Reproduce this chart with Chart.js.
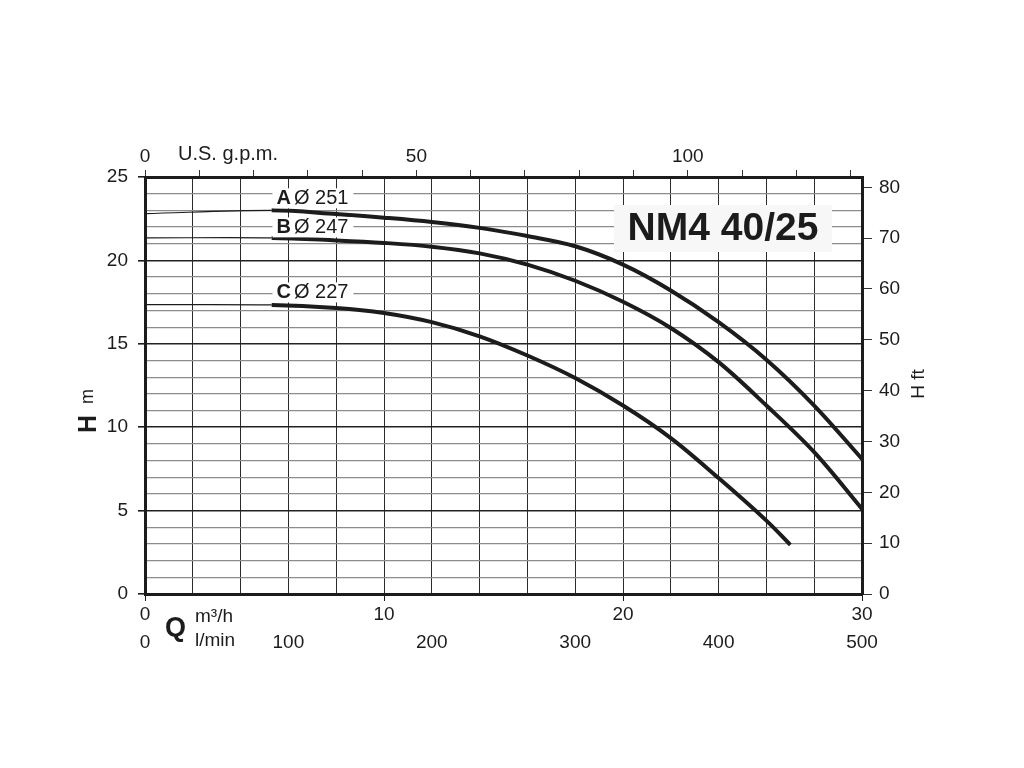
<!DOCTYPE html>
<html>
<head>
<meta charset="utf-8">
<script src="https://cdn.jsdelivr.net/npm/chart.js@4/dist/chart.umd.min.js"></script>
<style>
  html, body { margin: 0; padding: 0; background: #fff; }
  #wrap { width: 1024px; height: 768px; }
</style>
</head>
<body>
<div id="wrap"><canvas id="pump" width="1024" height="768"></canvas></div>
<script>
// curve data: Q in m3/h, H in m
const qA = [0, 5.3, 8, 10, 12, 14, 16, 18, 20, 22, 24, 26, 28, 30]
const hA = [22.8, 23.0, 22.78, 22.56, 22.3, 21.95, 21.46, 20.85, 19.75, 18.2, 16.3, 14.05, 11.3, 8.1]

const qB = [0, 5.3, 8, 10, 12, 14, 16, 18, 20, 22, 24, 26, 28, 30]
const hB = [21.35, 21.35, 21.2, 21.05, 20.82, 20.42, 19.75, 18.78, 17.52, 15.95, 13.9, 11.3, 8.5, 5.1]

const qC = [0, 5.3, 8, 10, 12, 14, 16, 18, 20, 22, 24, 26, 27]
const hC = [17.35, 17.33, 17.15, 16.85, 16.3, 15.45, 14.3, 12.95, 11.3, 9.35, 6.95, 4.4, 2.95]

const curveLetters = ['A', 'B', 'C']
const curveDiameters = ['Ø 251', 'Ø 247', 'Ø 227']

const modelName = 'NM4 40/25'

// unit conversions for the secondary axes
const GPM_PER_M3H = 4.4029
const FT_PER_M = 3.28084

const Q_MAX = 30
const H_MAX = 25
const THIN_UNTIL = 5.3

const ink = '#1c1c1c'
const font = 'Liberation Sans, Arial, sans-serif'

function points(q, h) {
    return q.map((v, i) => ({x: v, y: h[i]}))
}

function curve(q, h) {
    return {
        data: points(q, h),
        showLine: true,
        borderColor: ink,
        borderWidth: 4,
        pointRadius: 0,
        tension: 0.35,
        segment: {
            borderWidth: ctx => ctx.p0.parsed.x < THIN_UNTIL ? 1.2 : 4
        }
    }
}

// labels, title box and unit captions
const decorations = {
    id: 'decorations',
    afterDatasetsDraw(chart) {
        const {ctx, chartArea: a, scales} = chart
        ctx.save()
        ctx.textBaseline = 'middle'

        // curve labels A / B / C
        const labelH = [23.72, 21.98, 18.08]
        curveLetters.forEach((letter, i) => {
            const x = scales.x.getPixelForValue(5.5)
            const y = scales.y.getPixelForValue(labelH[i])
            ctx.font = 'bold 20px ' + font
            const lw = ctx.measureText(letter).width
            ctx.font = '20px ' + font
            const dw = ctx.measureText(curveDiameters[i]).width
            ctx.fillStyle = '#fff'
            ctx.fillRect(x - 4, y - 10, lw + dw + 12, 20)
            ctx.fillStyle = ink
            ctx.font = 'bold 20px ' + font
            ctx.textAlign = 'left'
            ctx.fillText(letter, x, y)
            ctx.font = '20px ' + font
            ctx.fillText(curveDiameters[i], x + lw + 3, y)
        })

        // model name box
        ctx.fillStyle = '#f7f7f7'
        ctx.fillRect(a.left + 469, a.top + 28, 218, 47)
        ctx.fillStyle = ink
        ctx.font = 'bold 39px ' + font
        ctx.textAlign = 'center'
        ctx.fillText(modelName, a.left + 578, a.top + 52)

        // top unit
        ctx.font = '20px ' + font
        ctx.textAlign = 'left'
        ctx.fillText('U.S. g.p.m.', 178, 154)

        // left axis title "H m"
        ctx.save()
        ctx.translate(89, 0)
        ctx.rotate(-Math.PI / 2)
        ctx.font = 'bold 25px ' + font
        ctx.textAlign = 'left'
        ctx.fillText('H', -433, 0)
        ctx.font = '18px ' + font
        ctx.fillText('m', -404, -1)
        ctx.restore()

        // right axis title "H ft"
        ctx.save()
        ctx.translate(919, 384)
        ctx.rotate(-Math.PI / 2)
        ctx.font = '19px ' + font
        ctx.textAlign = 'center'
        ctx.fillText('H ft', 0, 0)
        ctx.restore()

        // bottom captions
        ctx.font = 'bold 27px ' + font
        ctx.textAlign = 'left'
        ctx.fillText('Q', 165, 629)
        ctx.font = '19px ' + font
        ctx.fillText('m\u00b3/h', 195, 617)
        ctx.fillText('l/min', 195, 641)

        ctx.restore()
    }
}

const tickFont = {family: font, size: 19}

new Chart(document.getElementById('pump'), {
    type: 'scatter',
    data: {
        datasets: [curve(qA, hA), curve(qB, hB), curve(qC, hC)]
    },
    options: {
        responsive: false,
        animation: false,
        layout: {padding: 0},
        plugins: {
            legend: {display: false},
            tooltip: {enabled: false}
        },
        scales: {
            x: {
                type: 'linear', position: 'bottom', min: 0, max: Q_MAX,
                ticks: {
                    stepSize: 2, autoSkip: false, maxRotation: 0, color: ink, font: tickFont, padding: 2,
                    callback: v => v % 10 === 0 ? v : ''
                },
                grid: {
                    color: '#2a2a2a', lineWidth: 1, tickLength: 7,
                    tickColor: ctx => ctx.tick && ctx.tick.value % 10 === 0 ? ink : 'rgba(0,0,0,0)'
                },
                border: {color: ink, width: 3},
                afterFit: s => { s.height = 28 }
            },
            xl: {
                type: 'linear', position: 'bottom', min: 0, max: 500,
                ticks: {
                    stepSize: 100, autoSkip: false, maxRotation: 0, color: ink, font: tickFont, padding: 9, includeBounds: false,
                    callback: v => Math.round(v)
                },
                grid: {display: false, drawTicks: false},
                border: {display: false},
                afterFit: s => { s.height = 146 }
            },
            xg: {
                type: 'linear', position: 'top', min: 0, max: Q_MAX * GPM_PER_M3H,
                ticks: {
                    stepSize: 10, autoSkip: false, maxRotation: 0, color: ink, font: tickFont, padding: 2, includeBounds: false,
                    callback: v => Math.round(v) % 50 === 0 ? Math.round(v) : ''
                },
                grid: {drawOnChartArea: false, tickLength: 7, color: '#333'},
                border: {color: ink, width: 3},
                afterFit: s => { s.height = 177 }
            },
            y: {
                type: 'linear', position: 'left', min: 0, max: H_MAX,
                ticks: {
                    stepSize: 1, autoSkip: false, color: ink, font: tickFont, padding: 10,
                    callback: v => v % 5 === 0 ? v : ''
                },
                grid: {
                    color: ctx => ctx.tick && ctx.tick.value % 5 === 0 ? '#222' : '#8c8c8c',
                    lineWidth: ctx => ctx.tick && ctx.tick.value % 5 === 0 ? 1.6 : 1.2,
                    tickLength: 7,
                    tickColor: ctx => ctx.tick && ctx.tick.value % 5 === 0 ? ink : 'rgba(0,0,0,0)'
                },
                border: {color: ink, width: 3},
                afterFit: s => { s.width = 145 }
            },
            yf: {
                type: 'linear', position: 'right', min: 0, max: H_MAX * FT_PER_M,
                ticks: {
                    stepSize: 10, autoSkip: false, color: ink, font: tickFont, padding: 7, includeBounds: false,
                    callback: v => Math.round(v)
                },
                grid: {drawOnChartArea: false, tickLength: 10, color: '#333'},
                border: {color: ink, width: 3},
                afterFit: s => { s.width = 162 }
            }
        }
    },
    plugins: [decorations]
})
</script>
</body>
</html>
